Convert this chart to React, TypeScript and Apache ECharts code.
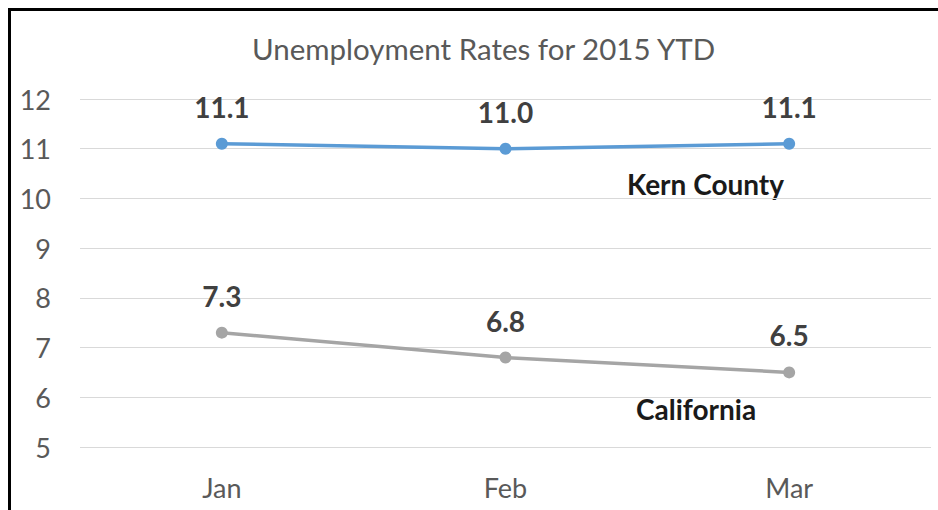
import React, { useEffect, useRef } from "react";
import * as echarts from "echarts";

const title = "Unemployment Rates for 2015 YTD";
const months = ["Jan", "Feb", "Mar"];
const kernCounty = [11.1, 11.0, 11.1];
const california = [7.3, 6.8, 6.5];
const seriesNames = ["Kern County", "California"];

const FONT = "Lato, 'Open Sans', sans-serif";

export default function App() {
  const ref = useRef<HTMLDivElement>(null);
  useEffect(() => {
    const chart = echarts.init(ref.current!, null, { renderer: "svg" });
    const labelStyle = {
      show: true,
      position: "top" as const,
      distance: 17,
      fontFamily: FONT,
      fontSize: 28,
      fontWeight: "bold" as const,
      color: "#404040",
      formatter: (p: any) => Number(p.value).toFixed(1),
    };
    chart.setOption({
      animation: false,
      title: {
        text: title,
        left: 247,
        top: 28,
        textStyle: { fontFamily: FONT, fontSize: 29.5, fontWeight: "normal", color: "#595959" },
      },
      grid: { left: 80, right: 7, top: 99, bottom: 63 },
      xAxis: {
        type: "category",
        data: months,
        boundaryGap: true,
        axisLine: { show: false },
        axisTick: { show: false },
        axisLabel: { fontFamily: FONT, fontSize: 27, color: "#595959", margin: 27 },
      },
      yAxis: {
        type: "value",
        min: 5,
        max: 12,
        interval: 1,
        axisLine: { show: false },
        axisTick: { show: false },
        splitLine: { lineStyle: { color: "#d9d9d9", width: 1 } },
        axisLabel: { fontFamily: FONT, fontSize: 27, color: "#595959", margin: 29 },
      },
      series: [
        {
          name: seriesNames[0],
          type: "line",
          data: kernCounty,
          symbol: "circle",
          symbolSize: 12,
          lineStyle: { color: "#5B9BD5", width: 3.5 },
          itemStyle: { color: "#5B9BD5" },
          label: labelStyle,
        },
        {
          name: seriesNames[1],
          type: "line",
          data: california,
          symbol: "circle",
          symbolSize: 12,
          lineStyle: { color: "#A5A5A5", width: 3.5 },
          itemStyle: { color: "#A5A5A5" },
          label: labelStyle,
        },
      ],
      graphic: [
        {
          type: "text",
          left: 627,
          top: 170,
          style: { text: seriesNames[0], fontFamily: FONT, fontSize: 28, fontWeight: "bold", fill: "#1a1a1a" },
        },
        {
          type: "text",
          left: 636,
          top: 395,
          style: { text: seriesNames[1], fontFamily: FONT, fontSize: 28, fontWeight: "bold", fill: "#1a1a1a" },
        },
        {
          type: "line",
          shape: { x1: 8, y1: 9.5, x2: 938, y2: 9.5 },
          style: { stroke: "#000", lineWidth: 3 },
        },
        {
          type: "line",
          shape: { x1: 9.5, y1: 8, x2: 9.5, y2: 510 },
          style: { stroke: "#000", lineWidth: 3 },
        },
      ],
    });
    return () => chart.dispose();
  }, []);
  return (
    <div
      ref={ref}
      style={{ position: "absolute", left: 0, top: 0, width: 938, height: 510, background: "#fff" }}
    />
  );
}
